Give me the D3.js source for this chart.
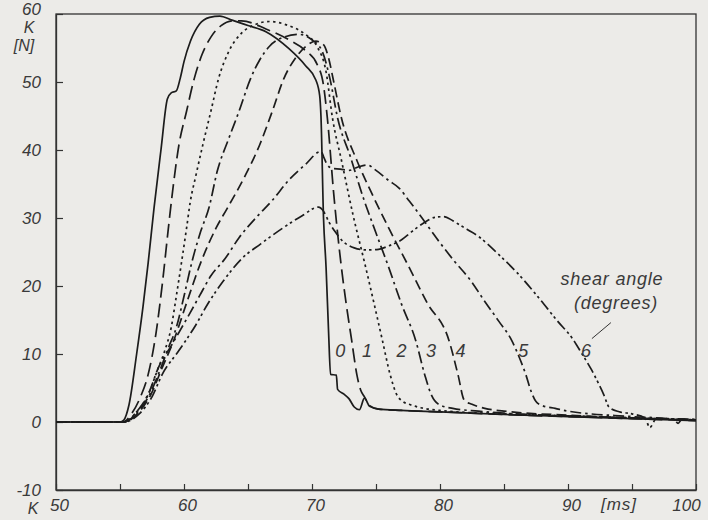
<!DOCTYPE html>
<html>
<head>
<meta charset="utf-8">
<script src="https://cdn.jsdelivr.net/npm/d3@7"></script>
<style>
  html, body { margin: 0; padding: 0; background: #ecebe8; }
  svg { display: block; }
  text { font-family: "Liberation Sans", "DejaVu Sans", sans-serif; font-style: italic; fill: #3a3a3a; }
</style>
</head>
<body>
<svg id="chart" width="708" height="520"></svg>
<script>
// ---- data (time t in ms, force K in N) ----
const xTickValues = [50, 55, 60, 65, 70, 75, 80, 85, 90, 95, 100];
const xTickLabels = ["50", "", "60", "", "70", "", "80", "", "90", "", "100"];
const yTickValues = [-10, 0, 10, 20, 30, 40, 50, 60];
const yTickLabels = ["-10", "0", "10", "20", "30", "40", "50", "60"];
const shearAngles = ["0", "1", "2", "3", "4", "5", "6"];

const k0 = [[50,0],[55,0],[55.3,0.3],[55.7,2.5],[56.3,10],[56.8,17],[57.2,23.4],[57.66,31.5],[58.2,40],[58.7,47.5],[59.0,48.4],[59.4,48.7],[59.7,50.5],[60.0,53],[60.5,56],[61.2,58.5],[62,59.5],[62.8,59.7],[63.75,59.1],[65,58.3],[66.4,57.4],[68.2,54.9],[69.5,52.4],[70.3,50.3],[70.6,48],[70.7,45],[70.9,30],[71.1,22.7],[71.3,13],[71.45,7],[71.9,6.9],[72.0,4.8],[72.5,4.1],[72.9,3.4],[73.3,2.2],[73.7,1.8],[74.1,3.5],[74.5,2.3],[75.2,1.9],[77,1.7],[80,1.5],[85,1.1],[90,0.8],[95,0.5],[100,0.2]];
const k1 = [[50,0],[55.2,0],[55.9,1.2],[56.6,3.7],[57.2,7],[57.8,12.9],[58.3,20.2],[58.75,28],[59.05,33],[59.6,40.7],[60.2,45.7],[60.8,50.5],[61.4,54],[62.1,56.6],[62.9,58.3],[63.8,59],[64.5,59],[66.4,57.8],[68.2,56.2],[69.5,54.6],[70.4,52.6],[70.9,49.5],[71.2,44.7],[71.7,33.5],[72.3,22.7],[72.7,17],[73.1,12],[73.5,7],[73.8,4.7],[74.1,3.7],[74.5,2.4],[75.2,1.9],[77,1.7],[80,1.5],[85,1.1],[90,0.8],[95,0.5],[100,0.2]];
const k2 = [[50,0],[55.3,0],[56.3,1.5],[57.2,4],[57.9,7.5],[58.5,10.5],[59.0,13.9],[59.4,18.5],[59.8,23.4],[60.2,28.5],[60.5,32.5],[60.9,36],[61.5,41],[62.1,45.7],[62.7,50.5],[63.5,54.5],[64.5,57.2],[65.5,58.4],[66.7,58.9],[68,58.4],[69.4,57.1],[70.4,55.2],[71.1,51.5],[71.6,44.7],[72.3,38.5],[73.2,30.5],[74.2,22.7],[74.9,17],[75.5,12],[76.1,7],[76.6,4.1],[77.1,3],[77.6,2.6],[78.5,2.1],[80,1.7],[85,1.2],[90,0.9],[95,0.6],[100,0.3]];
const k3 = [[50,0],[55.3,0],[56.4,1.5],[57.3,4],[58.1,7.5],[58.8,11],[59.4,13.9],[60,18.5],[60.6,23.4],[61.3,28],[61.95,31.5],[62.6,36.9],[63.5,41.7],[64.3,45.7],[65.2,50.5],[65.9,53.2],[66.7,55.3],[67.8,56.6],[69,57],[70,56.2],[70.8,54.5],[71.4,50.5],[72,44.7],[73,39],[74,33],[75,27.8],[76,22.7],[77,17.3],[78.1,12],[78.8,7],[79.3,4.1],[79.9,2.6],[81,2],[83,1.6],[85,1.3],[90,0.9],[95,0.6],[100,0.3]];
const k4 = [[50,0],[55.3,0],[56.5,1.5],[57.4,4],[58.3,8],[59.3,12.5],[60.2,17.5],[61.3,23.4],[62.5,28.5],[63.4,31.5],[64.8,36.3],[65.9,40.7],[66.9,45.7],[67.8,50.5],[68.7,53.5],[69.5,55.2],[70.3,56],[70.9,55.5],[71.3,53.5],[71.7,50],[72.3,44.7],[73.5,38.5],[74.7,33.5],[76,28.5],[77.6,22.7],[79,17.5],[80.7,12],[81.4,7],[81.9,3.2],[82.5,2.6],[83.5,2],[85,1.6],[90,1.0],[95,0.6],[100,0.3]];
const k5 = [[50,0],[55.3,0],[56.3,1.5],[57.3,4.5],[58,8],[59,11.2],[60.4,15.8],[61.2,18.5],[62.1,21.5],[63.2,24],[64.3,27.1],[65.7,30.2],[66.9,32.6],[68.2,35.6],[69.5,37.9],[70.7,39.8],[70.95,38.8],[71.2,37.8],[71.6,37.3],[72.2,37.2],[72.9,37.0],[73.6,37.5],[74.3,37.8],[75,37],[76,35.5],[76.8,34.4],[77.6,32.5],[78.4,30.5],[79.9,26.6],[81.1,23.7],[82.4,20.8],[83.4,18],[84.6,14.8],[85.6,12],[86.3,9],[86.7,7],[87.1,4.6],[87.5,3],[88,2.4],[89,2],[90,1.6],[95,0.8],[98.3,0.4],[98.6,-0.2],[98.9,0.4],[100,0.3]];
const k6 = [[50,0],[55.3,0],[56.5,1.2],[57.5,3.7],[58.3,7],[59.6,10.5],[60.9,14.2],[61.9,17.5],[63.1,20.8],[64.5,24],[66,26.2],[67.7,28.5],[69.2,30.3],[70.5,31.6],[70.9,31],[71.3,29.5],[71.8,28],[72.4,26.6],[73.3,25.6],[74.2,25.3],[75.2,25.4],[76,25.9],[77,26.8],[77.8,28],[78.75,29.3],[79.6,30.1],[80.3,30.2],[81,29.6],[81.6,28.9],[83,27.3],[84.6,24.6],[86,22],[87.7,18.3],[89.2,14.8],[90.3,12.4],[91.1,10],[91.8,7.8],[92.4,5.6],[92.8,4],[93.2,2.2],[94,1.5],[95,1.2],[96,0.6],[96.4,-0.8],[96.9,0.5],[100,0.4]];

const series = [k0, k1, k2, k3, k4, k5, k6];
// label anchor positions (t, K) for the shear-angle numbers
const labelT = [72.2, 74.3, 77.0, 79.3, 81.6, 86.5, 91.4];
const labelK = [10.5, 10.5, 10.5, 10.5, 10.5, 10.5, 10.5];

// ---- layout & styles ----
const dashes = [null, "14,6", "2.5,3.5", "12,4,2.5,4", "10,5", "11,4,2.5,4", "11,3.5,2.5,3,2.5,3.5"];
const svg = d3.select("#chart");
const x = d3.scaleLinear().domain([50, 100]).range([56, 696]);
const y = d3.scaleLinear().domain([-10, 60]).range([490, 14]);

// frame
svg.append("rect")
  .attr("x", x(50)).attr("y", y(60))
  .attr("width", x(100) - x(50)).attr("height", y(-10) - y(60))
  .attr("fill", "none").attr("stroke", "#333").attr("stroke-width", 1.3);

// axes
const xAxis = d3.axisBottom(x)
  .tickValues(xTickValues)
  .tickFormat((d, i) => xTickLabels[i])
  .tickSizeInner(-6).tickSizeOuter(0).tickPadding(9);
const gx = svg.append("g").attr("transform", `translate(0,${y(-10)})`).call(xAxis);
gx.select(".domain").attr("stroke", "#333").attr("stroke-width", 1.3);
gx.selectAll(".tick line").attr("stroke", "#333").attr("stroke-width", 1.2);
gx.selectAll("text").attr("font-size", 17).attr("font-family", null).style("fill", "#3a3a3a")
  .attr("dx", d => d === 100 ? -10 : 3);

const yAxis = d3.axisLeft(y)
  .tickValues(yTickValues)
  .tickFormat((d, i) => yTickLabels[i])
  .tickSizeInner(-7).tickSizeOuter(0).tickPadding(15);
const gy = svg.append("g").attr("transform", `translate(${x(50)},0)`).call(yAxis);
gy.select(".domain").attr("stroke", "#333").attr("stroke-width", 1.3);
gy.selectAll(".tick line").attr("stroke", "#333").attr("stroke-width", 1.2);
gy.selectAll("text").attr("font-size", 17).attr("font-family", null).style("fill", "#3a3a3a")
  .attr("dy", d => d === 60 ? "0.0em" : "0.32em");

// unit labels
svg.append("text").attr("x", 29).attr("y", 33).attr("text-anchor", "middle").attr("font-size", 16).text("K");
svg.append("text").attr("x", 24).attr("y", 51).attr("text-anchor", "middle").attr("font-size", 16).text("[N]");
svg.append("text").attr("x", 33).attr("y", 514).attr("text-anchor", "middle").attr("font-size", 16).text("K");
svg.append("text").attr("x", 619).attr("y", 510).attr("text-anchor", "middle").attr("font-size", 17)
  .style("letter-spacing", "1px").text("[ms]");

// curves
const line = d3.line()
  .x(d => x(d[0])).y(d => y(d[1]))
  .curve(d3.curveMonotoneX);
const g = svg.append("g");
series.forEach((s, i) => {
  g.append("path")
    .attr("d", line(s))
    .attr("fill", "none")
    .attr("stroke", "#1c1c1c")
    .attr("stroke-width", 1.7)
    .attr("stroke-linejoin", "round")
    .attr("stroke-dasharray", dashes[i]);
});

// curve number labels
shearAngles.forEach((s, i) => {
  svg.append("text")
    .attr("x", x(labelT[i])).attr("y", y(labelK[i]) + 6)
    .attr("text-anchor", "middle").attr("font-size", 18)
    .text(s);
});

// legend caption
svg.append("text").attr("x", 612).attr("y", 285).attr("text-anchor", "middle").attr("font-size", 18)
  .style("letter-spacing", "0.8px").text("shear angle");
svg.append("text").attr("x", 616).attr("y", 309).attr("text-anchor", "middle").attr("font-size", 18)
  .style("letter-spacing", "0.8px").text("(degrees)");
svg.append("line")
  .attr("x1", x(labelT[6]) + 6).attr("y1", y(labelK[6]) - 12)
  .attr("x2", x(labelT[6]) + 25).attr("y2", y(labelK[6]) - 28)
  .attr("stroke", "#333").attr("stroke-width", 1);
</script>
</body>
</html>
